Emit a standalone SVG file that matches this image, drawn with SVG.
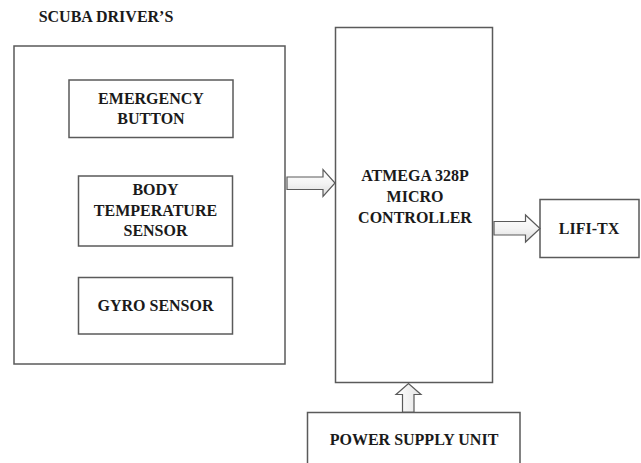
<svg xmlns="http://www.w3.org/2000/svg" width="641" height="463" viewBox="0 0 641 463">
<defs>
<linearGradient id="gh" x1="0" y1="0" x2="0" y2="1">
<stop offset="0" stop-color="#ffffff"/>
<stop offset="0.5" stop-color="#f4f4f4"/>
<stop offset="1" stop-color="#dcdcdc"/>
</linearGradient>
<linearGradient id="gv" x1="0" y1="0" x2="1" y2="0">
<stop offset="0" stop-color="#ffffff"/>
<stop offset="1" stop-color="#e4e4e4"/>
</linearGradient>
<style>
.box{fill:#ffffff;stroke:#5a5a5a;stroke-width:1.5}
.t{font-family:"Liberation Serif","Times New Roman",serif;font-weight:bold;font-size:16px;fill:#1a1a1a;text-anchor:middle}
.arr{stroke:#5a5a5a;stroke-width:1.2;stroke-linejoin:miter}
</style>
</defs>
<rect width="641" height="463" fill="#ffffff"/>
<text class="t" x="106" y="22">SCUBA DRIVER’S</text>
<g id="scuba-drivers">
<rect class="box" x="14" y="46" width="271" height="318"/>
</g>
<g id="emergency-button">
<rect class="box" x="69" y="80" width="164" height="57.5"/>
<text class="t" x="151" y="104">EMERGENCY</text>
<text class="t" x="151" y="124">BUTTON</text>
</g>
<g id="body-temperature-sensor">
<rect class="box" x="78.5" y="176" width="154" height="70"/>
<text class="t" x="155.5" y="195">BODY</text>
<text class="t" x="155.5" y="215.5">TEMPERATURE</text>
<text class="t" x="155.5" y="236">SENSOR</text>
</g>
<g id="gyro-sensor">
<rect class="box" x="78.5" y="277.5" width="154" height="56.5"/>
<text class="t" x="155.5" y="311">GYRO SENSOR</text>
</g>
<g id="microcontroller">
<rect class="box" x="335.5" y="27.5" width="157" height="355"/>
<text class="t" x="415" y="181">ATMEGA 328P</text>
<text class="t" x="415" y="202">MICRO</text>
<text class="t" x="415" y="223">CONTROLLER</text>
</g>
<g id="lifi-tx">
<rect class="box" x="540" y="199.5" width="99" height="58"/>
<text class="t" x="589" y="234">LIFI-TX</text>
</g>
<g id="power-supply-unit">
<rect class="box" x="307.5" y="412.5" width="212.5" height="60"/>
<text class="t" x="414" y="445">POWER SUPPLY UNIT</text>
</g>
<g id="connectors">
<path class="arr" fill="url(#gh)" d="M287,177 L323,177 L323,169.5 L335,183 L323,196.5 L323,189.5 L287,189.5 Z"/>
<path class="arr" fill="url(#gh)" d="M494,221.5 L525.5,221.5 L525.5,215 L540,228.5 L525.5,242 L525.5,235 L494,235 Z"/>
<path class="arr" fill="url(#gv)" d="M402.5,412 L402.5,394.5 L396,394.5 L408.5,383.5 L421,394.5 L414,394.5 L414,412 Z"/>
</g>
</svg>
